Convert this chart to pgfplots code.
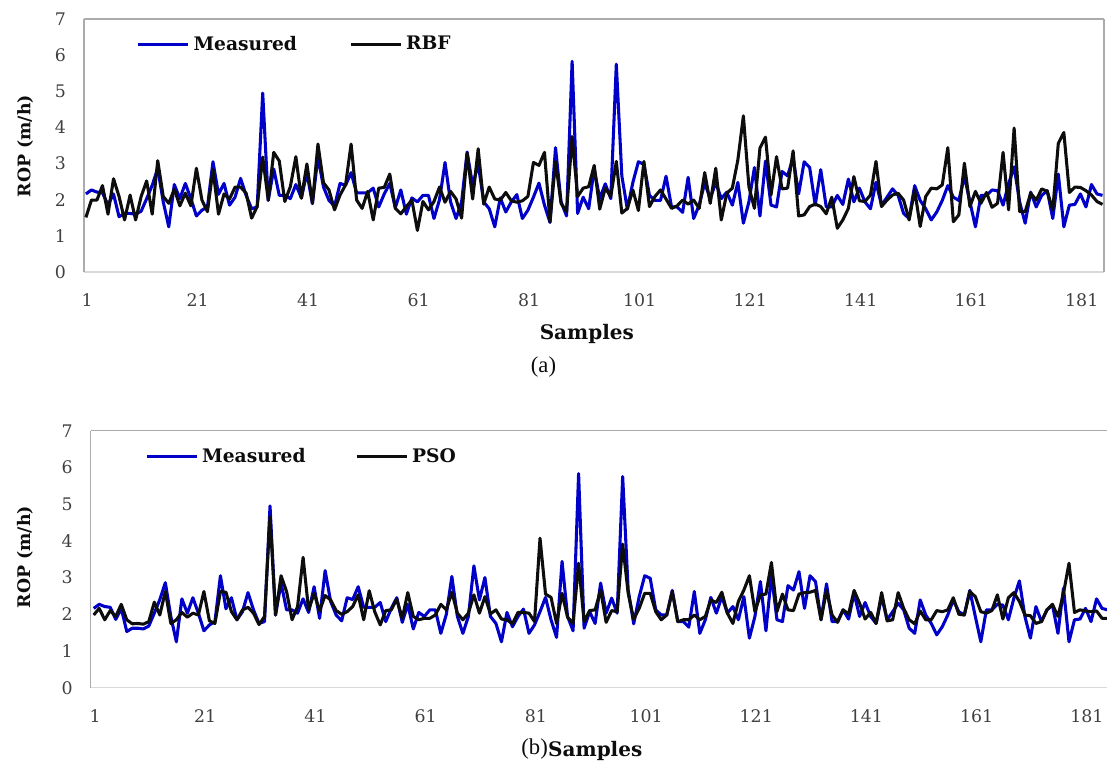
\documentclass[border=0pt]{standalone}
\usepackage{pgfplots}
\usepackage{pgfplotstable}
\usepackage{fontspec}
\pgfplotsset{compat=1.18}
\setmainfont{DejaVu Serif}
\newfontfamily\capfont{Liberation Serif}
\definecolor{mblue}{HTML}{0000C8}
\definecolor{pblack}{HTML}{0D0D0D}
\definecolor{spine}{HTML}{ABABAB}
\definecolor{spinelt}{HTML}{D9D9D9}
\definecolor{ticktxt}{HTML}{404040}
\pgfplotstableread{
i m r p
1 2.16 1.51 1.98
2 2.27 1.99 2.16
3 2.21 1.99 1.85
4 2.19 2.39 2.10
5 1.86 1.60 1.94
6 2.16 2.58 2.27
7 1.53 2.09 1.85
8 1.62 1.44 1.74
9 1.62 2.13 1.75
10 1.60 1.44 1.73
11 1.68 2.09 1.80
12 2.03 2.52 2.33
13 2.40 1.60 1.98
14 2.86 3.08 2.62
15 1.94 2.09 1.75
16 1.25 1.90 1.85
17 2.42 2.29 2.05
18 2.03 1.83 1.92
19 2.45 2.18 2.03
20 2.03 1.83 1.98
21 1.55 2.87 2.62
22 1.71 1.99 1.82
23 1.80 1.67 1.75
24 3.05 2.83 2.62
25 2.15 1.60 2.60
26 2.45 2.16 2.07
27 1.85 2.02 1.85
28 2.07 2.35 2.12
29 2.59 2.35 2.19
30 2.12 2.18 2.03
31 1.75 1.49 1.72
32 1.80 1.81 1.94
33 4.95 3.18 4.66
34 1.98 1.99 1.98
35 2.85 3.31 3.05
36 2.12 3.07 2.62
37 2.12 1.95 1.85
38 2.03 2.36 2.21
39 2.42 3.19 3.55
40 2.05 2.04 2.12
41 2.75 2.99 2.57
42 1.89 1.90 2.10
43 3.19 3.54 2.51
44 2.35 2.47 2.39
45 1.98 2.27 2.10
46 1.82 1.72 2.00
47 2.45 2.13 2.07
48 2.40 2.41 2.21
49 2.75 3.54 2.53
50 2.19 1.99 1.85
51 2.19 1.76 2.64
52 2.19 2.23 2.07
53 2.32 1.44 1.71
54 1.80 2.32 2.10
55 2.16 2.34 2.12
56 2.45 2.71 2.41
57 1.78 1.76 1.89
58 2.27 1.61 2.59
59 1.60 1.81 1.94
60 2.05 1.99 1.85
61 1.94 1.15 1.89
62 2.12 1.95 1.89
63 2.12 1.72 1.98
64 1.48 1.95 2.27
65 2.00 2.35 2.12
66 3.03 1.93 2.60
67 1.94 2.23 2.03
68 1.48 2.02 1.85
69 1.94 1.49 2.03
70 3.32 3.29 2.53
71 2.39 2.02 2.03
72 3.00 3.41 2.48
73 1.94 1.88 2.01
74 1.75 2.35 2.12
75 1.25 2.02 1.87
76 2.05 1.99 1.85
77 1.66 2.20 1.74
78 1.94 1.97 2.05
79 2.14 1.93 2.05
80 1.48 1.97 2.03
81 1.71 2.09 1.80
82 2.07 3.03 4.07
83 2.46 2.95 2.55
84 1.85 3.31 2.46
85 1.37 1.39 1.75
86 3.44 3.06 2.57
87 1.94 1.90 1.92
88 1.55 1.67 1.75
89 5.83 3.75 3.39
90 1.62 2.09 1.80
91 2.07 2.32 2.10
92 1.75 2.36 2.12
93 2.85 2.95 2.66
94 2.03 1.74 1.78
95 2.44 2.32 2.10
96 2.03 2.09 2.07
97 5.75 3.06 3.91
98 2.66 1.63 2.57
99 1.74 1.76 1.86
100 2.48 2.27 2.16
101 3.05 1.70 2.57
102 2.98 3.06 2.57
103 2.12 1.81 2.07
104 1.98 2.09 1.85
105 1.98 2.27 1.98
106 2.65 2.02 2.62
107 1.80 1.76 1.80
108 1.80 1.83 1.85
109 1.65 1.99 1.85
110 2.62 1.88 1.98
111 1.48 1.99 1.85
112 1.85 1.76 1.94
113 2.46 2.75 2.39
114 2.03 1.90 2.32
115 2.48 2.87 2.60
116 2.03 1.44 2.03
117 2.21 2.18 1.75
118 1.85 2.32 2.35
119 2.48 3.10 2.66
120 1.35 4.32 3.05
121 1.94 2.36 2.07
122 2.89 1.76 2.53
123 1.55 3.43 2.55
124 3.07 3.73 3.41
125 1.85 2.13 2.07
126 1.80 3.19 2.55
127 2.78 2.30 2.12
128 2.66 2.32 2.10
129 3.16 3.35 2.55
130 2.16 1.55 2.59
131 3.05 1.58 2.60
132 2.89 1.81 2.65
133 1.85 1.88 1.85
134 2.83 1.81 2.65
135 1.80 1.61 1.98
136 1.80 2.07 1.78
137 2.12 1.21 2.12
138 1.87 1.44 2.01
139 2.57 1.76 2.65
140 1.94 2.64 2.30
141 2.32 1.97 1.87
142 1.94 1.95 2.05
143 1.75 2.13 1.75
144 2.48 3.06 2.59
145 1.85 1.81 1.82
146 2.07 1.99 1.85
147 2.30 2.13 2.59
148 2.12 2.18 2.16
149 1.62 1.99 1.85
150 1.48 1.44 1.74
151 2.39 2.27 2.09
152 1.98 1.26 1.85
153 1.75 2.09 1.85
154 1.44 2.32 2.10
155 1.66 2.30 2.07
156 1.98 2.41 2.12
157 2.39 3.44 2.45
158 2.07 1.39 2.00
159 1.98 1.58 1.98
160 2.65 3.01 2.62
161 1.94 1.81 2.48
162 1.25 2.23 2.07
163 2.12 1.90 2.03
164 2.12 2.20 2.10
165 2.27 1.79 2.53
166 2.25 1.90 1.87
167 1.85 3.31 2.45
168 2.44 1.72 2.59
169 2.91 3.98 2.35
170 1.94 1.67 1.98
171 1.35 1.67 1.96
172 2.21 2.18 1.75
173 1.80 1.99 1.80
174 2.12 2.30 2.12
175 2.25 2.23 2.27
176 1.48 1.72 1.94
177 2.71 3.56 2.57
178 1.25 3.86 3.39
179 1.85 2.20 2.05
180 1.87 2.35 2.12
181 2.16 2.34 2.09
182 1.80 2.25 2.07
183 2.42 2.13 2.09
184 2.16 1.95 1.89
185 2.12 1.87 1.89
}\datatable
\pgfplotsset{
  rop/.style={
    scale only axis,
    ymin=0,ymax=7,
    ytick={0,...,7},
    xtick={1,21,...,181},
    major tick length=0pt,
    axis x line*=bottom,
    axis y line*=box,
    x axis line style={draw=spinelt,line width=1pt},
    y axis line style={draw=spine,line width=1pt},
    tick label style={font=\fontsize{13}{15}\selectfont,text=ticktxt},
    /pgf/number format/assume math mode=true,
    xticklabel style={yshift=-13pt,xshift=1pt},
    yticklabel style={xshift=-10pt},
    legend columns=2,
    legend cell align=left,
    legend style={draw=none,fill=none,inner sep=0pt,font=\fontsize{14}{16}\selectfont\bfseries,
      text=pblack,
      nodes={inner sep=3pt}},
    legend image code/.code={\draw[#1,line width=2.3pt] (0,0)--(37.5pt,0);},
    clip=false,
  }
}
\begin{document}
\begin{tikzpicture}[x=0.75pt,y=0.75pt]
\useasboundingbox (0,0) rectangle (1107,761);
\begin{axis}[rop,at={(63pt,366.75pt)},anchor=south west,
  width=765pt,height=189.75pt,xmin=0.656,xmax=185.27,
  xlabel={Samples},ylabel={ROP (m/h)},
  xlabel style={at={(axis description cs:0.493,-0.245)},anchor=center,font=\fontsize{15}{17}\selectfont\bfseries,text=pblack},
  ylabel style={at={(axis description cs:-0.0578,0.498)},anchor=center,rotate=0,font=\fontsize{13}{15}\selectfont\bfseries,text=pblack},
  legend style={at={(axis description cs:0.0512,0.901)},anchor=west,
    /tikz/every even column/.append style={column sep=36pt}},
  after end axis/.code={
    \draw[spine,line width=1pt] (rel axis cs:0,1)--(rel axis cs:1,1);
    \node[font=\capfont\fontsize{17}{19}\selectfont,text=pblack] at (axis description cs:0.4505,-0.375) {(a)};
  }]
\addplot[mblue,line width=2.3pt,line join=round] table[x=i,y=m]{\datatable};
\addlegendentry{Measured}
\addplot[pblack,line width=2.3pt,line join=round] table[x=i,y=r]{\datatable};
\addlegendentry{RBF}
\end{axis}
\begin{axis}[rop,at={(68.03pt,54.98pt)},anchor=south west,
  width=764.5pt,height=192.75pt,xmin=0.456,xmax=185.45,
  xlabel={Samples},ylabel={ROP (m/h)},
  xlabel style={at={(axis description cs:0.495,-0.2465)},anchor=center,font=\fontsize{15}{17}\selectfont\bfseries,text=pblack},
  ylabel style={at={(axis description cs:-0.0645,0.5085)},anchor=center,rotate=0,font=\fontsize{13}{15}\selectfont\bfseries,text=pblack},
  legend style={at={(axis description cs:0.0531,0.901)},anchor=west,
    /tikz/every even column/.append style={column sep=34pt}},
  after end axis/.code={
    \draw[spine,line width=1pt] (rel axis cs:0,1)--(rel axis cs:1,1);
    \node[font=\capfont\fontsize{17}{19}\selectfont,text=pblack] at (axis description cs:0.4355,-0.2385) {(b)};
  }]
\addplot[mblue,line width=2.3pt,line join=round] table[x=i,y=m]{\datatable};
\addlegendentry{Measured}
\addplot[pblack,line width=2.3pt,line join=round] table[x=i,y=p]{\datatable};
\addlegendentry{PSO}
\end{axis}
\end{tikzpicture}
\end{document}
